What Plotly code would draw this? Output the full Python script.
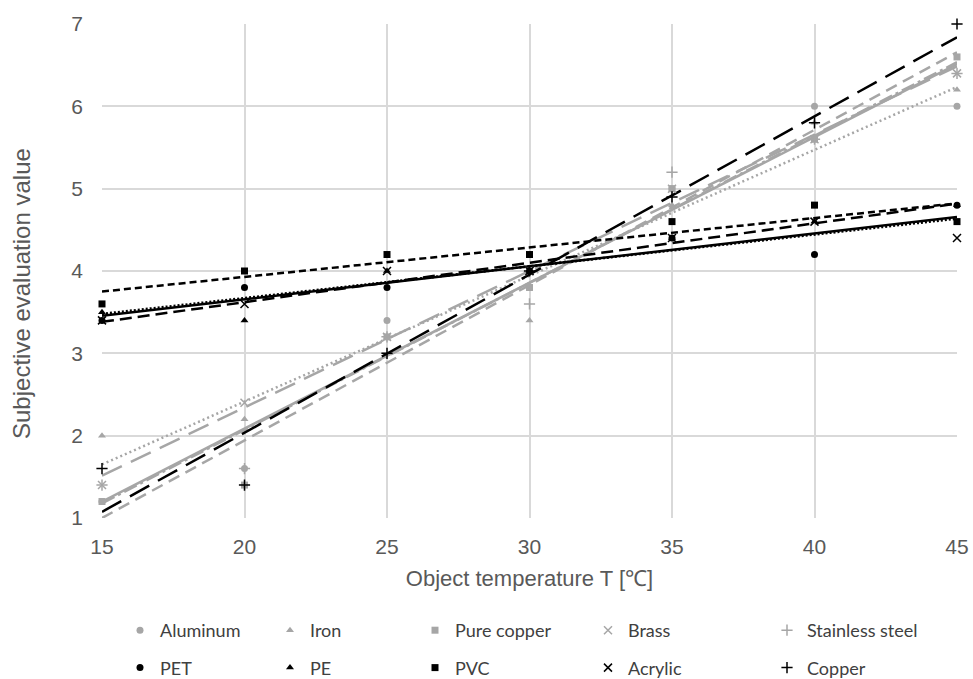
import numpy as np
import plotly.graph_objects as go

temps = [15, 20, 25, 30, 35, 40, 45]
aluminum = [1.2, 1.6, 3.4, 3.8, 5.0, 6.0, 6.0]
iron = [2.0, 2.2, 3.2, 3.4, 4.8, 5.8, 6.2]
pure_copper = [1.2, 1.4, 3.2, 3.8, 5.0, 5.6, 6.6]
brass = [1.4, 2.4, 3.2, 4.0, 5.0, 5.6, 6.4]
stainless = [1.4, 1.6, 3.2, 3.6, 5.2, 5.6, 6.4]
pet = [3.4, 3.8, 3.8, 4.0, 4.4, 4.2, 4.8]
pe = [3.5, 3.4, 4.0, 4.0, 4.4, 4.6, 4.8]
pvc = [3.6, 4.0, 4.2, 4.2, 4.6, 4.8, 4.6]
acrylic = [3.4, 3.6, 4.0, 4.0, 4.4, 4.6, 4.4]
copper = [1.6, 1.4, 3.0, 4.0, 4.9, 5.8, 7.0]

x_ticks = [15, 20, 25, 30, 35, 40, 45]
y_ticks = [1, 2, 3, 4, 5, 6, 7]

GREY = "#a6a6a6"
BLACK = "#000000"

series = [
    # name, values, color, symbol, dash, legend
    ("Aluminum", aluminum, GREY, "circle", "solid", "legend"),
    ("Iron", iron, GREY, "triangle-up", "2px,3px", "legend2"),
    ("Pure copper", pure_copper, GREY, "square", "12px,7px", "legend3"),
    ("Brass", brass, GREY, "x-thin", "22px,10px", "legend4"),
    ("Stainless steel", stainless, GREY, "cross-thin", "14px,4px,3px,4px", "legend5"),
    ("PET", pet, BLACK, "circle", "solid", "legend"),
    ("PE", pe, BLACK, "triangle-up", "12px,6px", "legend2"),
    ("PVC", pvc, BLACK, "square", "7px,4px", "legend3"),
    ("Acrylic", acrylic, BLACK, "x-thin", "2px,2px", "legend4"),
    ("Copper", copper, BLACK, "cross-thin", "22px,10px", "legend5"),
]

fig = go.Figure()
xs = np.array(temps, dtype=float)
xfit = np.array([min(temps), max(temps)], dtype=float)

# trendlines (least-squares fits of each series)
for name, vals, color, sym, dash, lg in series:
    k, b = np.polyfit(xs, np.array(vals, dtype=float), 1)
    fig.add_trace(go.Scatter(
        x=xfit, y=k * xfit + b, mode="lines",
        line=dict(color=color, width=2.5, dash=dash),
        showlegend=False, hoverinfo="skip",
    ))

# markers
for name, vals, color, sym, dash, lg in series:
    thin = sym.endswith("-thin")
    fig.add_trace(go.Scatter(
        x=temps, y=vals, mode="markers", name=name,
        legend=lg, legendgroup=name,
        cliponaxis=False,
        marker=dict(symbol=sym, size=8 if thin else 7, color=color,
                    line=dict(color=color, width=1.5 if thin else 0)),
    ))

PLOT_L, PLOT_W, PLOT_B, PLOT_H = 102, 855, 518, 494
legend_x = [120, 270, 415, 588, 767]
legend_common = dict(
    orientation="v", xref="paper", yref="paper",
    yanchor="top", xanchor="left", y=(PLOT_B - 612) / PLOT_H,
    font=dict(family="Lato, sans-serif", size=18, color="#404040"),
    bgcolor="rgba(0,0,0,0)", tracegroupgap=11, traceorder="grouped",
    itemwidth=30,
)
layout_legends = {}
for j, lx in enumerate(legend_x):
    key = "legend" if j == 0 else f"legend{j + 1}"
    layout_legends[key] = dict(legend_common, x=(lx - PLOT_L) / PLOT_W)

fig.update_layout(
    width=973, height=679,
    margin=dict(l=102, r=16, t=24, b=161, autoexpand=False),
    plot_bgcolor="white", paper_bgcolor="white",
    font=dict(family="Liberation Sans, Arial, sans-serif", color="#595959"),
    showlegend=True,
    annotations=[dict(
        text="Subjective evaluation value", textangle=-90,
        xref="paper", yref="paper",
        x=(22 - PLOT_L) / PLOT_W, y=(PLOT_B - 294) / PLOT_H,
        xanchor="center", yanchor="middle", showarrow=False,
        font=dict(size=24, color="#595959"),
    )],
    **layout_legends,
)
fig.update_xaxes(
    range=[15, 45], tickvals=x_ticks, ticktext=[str(t) for t in x_ticks],
    showgrid=True, gridcolor="#d9d9d9", gridwidth=2, zeroline=False,
    showline=False, ticks="", ticklabelstandoff=14,
    tickfont=dict(size=21, color="#595959"),
    title=dict(text="Object temperature T [℃]", font=dict(size=22, color="#595959"), standoff=13),
)
fig.update_yaxes(
    range=[1, 7], tickvals=y_ticks, ticktext=[str(t) for t in y_ticks],
    showgrid=True, gridcolor="#d9d9d9", gridwidth=2, zeroline=False,
    showline=False, ticks="", ticklabelstandoff=18,
    tickfont=dict(size=21, color="#595959"),
)

fig.write_html("out.html")
